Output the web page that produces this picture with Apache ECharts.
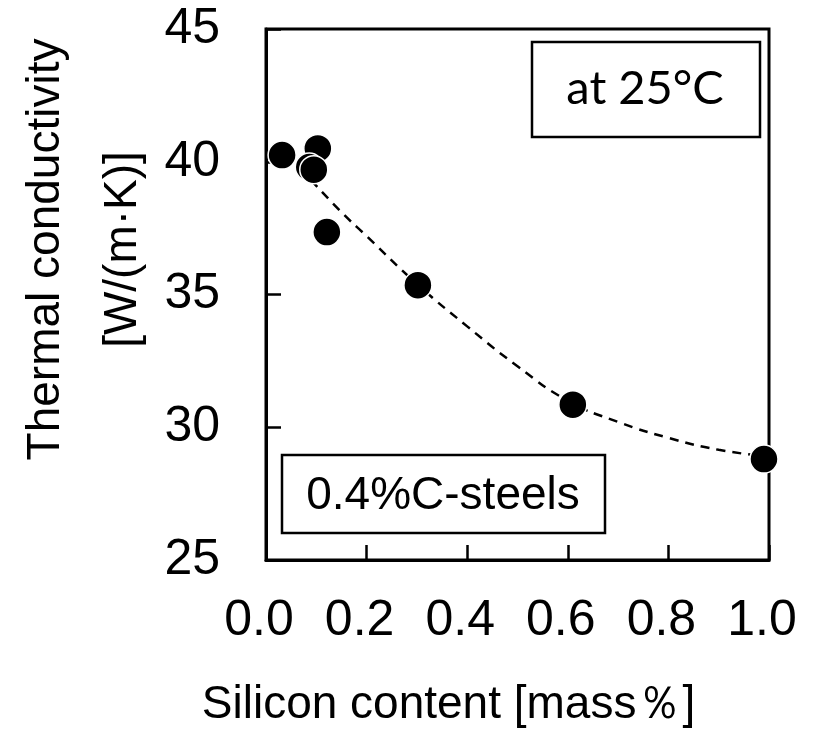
<!DOCTYPE html>
<html>
<head>
<meta charset="utf-8">
<script src="https://cdn.jsdelivr.net/npm/echarts@6/dist/echarts.min.js"></script>
<style>
html,body{margin:0;padding:0;background:#fff;}
#chart{width:825px;height:737px;}
</style>
</head>
<body>
<div id="chart"></div>
<script>
// Measured points: silicon content [mass%] and thermal conductivity [W/(m·K)]
const siliconContent = [0.032, 0.103, 0.086, 0.095, 0.121, 0.302, 0.610, 0.990];
const thermalConductivity = [40.25, 40.5, 39.8, 39.7, 37.35, 35.35, 30.85, 28.8];

// Dashed fitted trend curve
const trendX = [0.09, 0.15, 0.2, 0.3, 0.4, 0.5, 0.6, 0.7, 0.8, 0.9, 1.0];
const trendY = [39.3, 38.1, 37.2, 35.4, 33.8, 32.3, 31.0, 30.2, 29.6, 29.15, 28.9];

const xTickLabels = ['0.0', '0.2', '0.4', '0.6', '0.8', '1.0'];
const yTickLabels = ['25', '30', '35', '40', '45'];

const xTitle = 'Silicon content [mass\uFF05]';
const yTitle = 'Thermal conductivity\n[W/(m\u00B7K)]';
const tempNote = 'at 25\u00B0C';
const steelNote = '0.4%C-steels';

const chart = echarts.init(document.getElementById('chart'), null, {renderer: 'canvas'});
const font = 'Liberation Sans, Arial, sans-serif';

chart.setOption({
  animation: false,
  backgroundColor: '#fff',
  grid: {
    left: 266, right: 56, top: 29, bottom: 177,
    containLabel: false, outerBoundsMode: 'none',
    show: true, borderColor: '#000', borderWidth: 3, backgroundColor: 'transparent'
  },
  xAxis: {
    type: 'value', min: 0, max: 1, interval: 0.2,
    name: xTitle, nameLocation: 'middle', nameGap: 122, nameMoveOverlap: false,
    nameTextStyle: {fontFamily: font, fontSize: 46, color: '#000', padding: [0, 138, 0, 0]},
    axisLine: {show: true, lineStyle: {color: '#000', width: 3}},
    axisTick: {show: true, inside: true, length: 15, lineStyle: {color: '#000', width: 2.5}},
    axisLabel: {
      fontFamily: font, fontSize: 50, color: '#000', margin: 36,
      padding: [0, 14, 0, 0],
      formatter: function (v) { return xTickLabels[Math.round(v / 0.2)]; }
    },
    splitLine: {show: false}
  },
  yAxis: {
    type: 'value', min: 25, max: 45, interval: 5,
    name: yTitle, nameLocation: 'middle', nameGap: 104, nameRotate: 90, nameMoveOverlap: false,
    nameTextStyle: {fontFamily: font, fontSize: 46, color: '#000', lineHeight: 77, padding: [0, 0, 0, 90]},
    axisLine: {show: true, lineStyle: {color: '#000', width: 3}},
    axisTick: {show: true, inside: true, length: 15, lineStyle: {color: '#000', width: 2.5}},
    axisLabel: {
      fontFamily: font, fontSize: 50, color: '#000', margin: 46,
      padding: [0, 0, 6, 0],
      formatter: function (v) { return yTickLabels[Math.round((v - 25) / 5)]; }
    },
    splitLine: {show: false}
  },
  series: [
    {
      type: 'line',
      data: trendX.map((x, i) => [x, trendY[i]]),
      smooth: true,
      showSymbol: false,
      z: 2,
      lineStyle: {color: '#000', width: 2.5, type: [9, 7]}
    },
    {
      type: 'scatter',
      data: siliconContent.map((x, i) => [x, thermalConductivity[i]]),
      symbolSize: 28,
      z: 3,
      itemStyle: {color: '#000', borderColor: '#fff', borderWidth: 1.5, opacity: 1}
    }
  ],
  graphic: [
    {
      type: 'rect', shape: {x: 532, y: 42, width: 228, height: 95},
      style: {fill: '#fff', stroke: '#000', lineWidth: 2.5}, z: 10
    },
    {
      type: 'text', x: 645, y: 89, z: 11,
      style: {text: tempNote, fontFamily: 'Lato, sans-serif', fontSize: 47, fill: '#000', align: 'center', verticalAlign: 'middle'}
    },
    {
      type: 'rect', shape: {x: 282, y: 455, width: 323, height: 78},
      style: {fill: '#fff', stroke: '#000', lineWidth: 2.5}, z: 10
    },
    {
      type: 'text', x: 443, y: 496, z: 11,
      style: {text: steelNote, fontFamily: font, fontSize: 46, fill: '#000', align: 'center', verticalAlign: 'middle'}
    }
  ]
});
</script>
</body>
</html>
